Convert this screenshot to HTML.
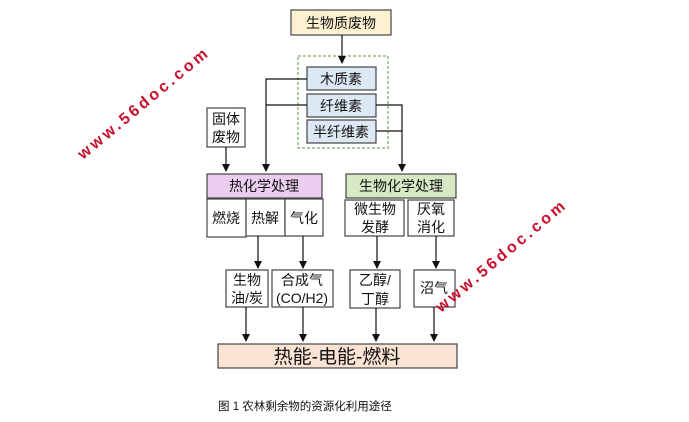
<!DOCTYPE html>
<html><head><meta charset="utf-8"><style>
html,body{margin:0;padding:0;background:#fff;}
svg{display:block;}
text{font-family:"Liberation Sans","Noto Sans CJK SC",sans-serif;fill:#111;}
</style></head><body>
<svg width="689" height="422" viewBox="0 0 689 422" xmlns="http://www.w3.org/2000/svg">
<defs><marker id="a" markerWidth="8" markerHeight="8" refX="7" refY="4" orient="auto" markerUnits="userSpaceOnUse"><path d="M0,0 L8,4 L0,8 z" fill="#111"/></marker></defs>
<g stroke="#444" stroke-width="1.2">
<rect x="291" y="10" width="100" height="25" fill="#fdf1d2"/>
<rect x="298" y="56" width="90" height="92" fill="none" stroke="#7aa860" stroke-dasharray="3,2"/>
<rect x="307" y="67" width="69" height="23" fill="#dde8f5"/>
<rect x="307" y="94" width="69" height="23" fill="#dde8f5"/>
<rect x="307" y="120" width="69" height="23" fill="#dde8f5"/>
<rect x="207" y="108" width="38" height="39" fill="#fff"/>
<rect x="207" y="174" width="115" height="24" fill="#ebcdef"/>
<rect x="346" y="174" width="110" height="24" fill="#d6e9c4"/>
<rect x="207" y="199" width="39" height="38" fill="#fff"/>
<rect x="246" y="199" width="39" height="37" fill="#fff"/>
<rect x="285" y="199" width="38" height="37" fill="#fff"/>
<rect x="345" y="200" width="59" height="36" fill="#fff"/>
<rect x="408" y="200" width="46" height="36" fill="#fff"/>
<rect x="226" y="270" width="42" height="37" fill="#fff"/>
<rect x="272" y="270" width="61" height="37" fill="#fff"/>
<rect x="350" y="270" width="50" height="38" fill="#fff"/>
<rect x="414" y="270" width="41" height="37" fill="#fff"/>
<rect x="218" y="344" width="239" height="24" fill="#fbe3d3"/>
</g>
<g stroke="#111" stroke-width="1.2" fill="none">
<line x1="342" y1="35" x2="342" y2="63" marker-end="url(#a)"/>
<polyline points="307,79 266,79 266,171" marker-end="url(#a)"/>
<line x1="266" y1="105" x2="307" y2="105"/>
<polyline points="376,105 402,105 402,171" marker-end="url(#a)"/>
<line x1="376" y1="131" x2="402" y2="131"/>
<line x1="226" y1="147" x2="226" y2="171" marker-end="url(#a)"/>
<line x1="258" y1="236" x2="258" y2="268" marker-end="url(#a)"/>
<line x1="303" y1="236" x2="303" y2="268" marker-end="url(#a)"/>
<line x1="377" y1="236" x2="377" y2="268" marker-end="url(#a)"/>
<line x1="436" y1="236" x2="436" y2="268" marker-end="url(#a)"/>
<line x1="246" y1="307" x2="246" y2="341" marker-end="url(#a)"/>
<line x1="303" y1="307" x2="303" y2="341" marker-end="url(#a)"/>
<line x1="376" y1="308" x2="376" y2="341" marker-end="url(#a)"/>
<line x1="434" y1="307" x2="434" y2="341" marker-end="url(#a)"/>
</g>
<g font-size="14" text-anchor="middle">
<text x="341" y="28">生物质废物</text>
<text x="341" y="84">木质素</text>
<text x="341" y="111">纤维素</text>
<text x="341" y="137">半纤维素</text>
<text x="226" y="124">固体</text>
<text x="226" y="142">废物</text>
<text x="264" y="191">热化学处理</text>
<text x="401" y="191">生物化学处理</text>
<text x="226" y="223">燃烧</text>
<text x="265" y="223">热解</text>
<text x="304" y="223">气化</text>
<text x="375" y="214">微生物</text>
<text x="375" y="232">发酵</text>
<text x="431" y="214">厌氧</text>
<text x="431" y="232">消化</text>
<text x="247" y="285">生物</text>
<text x="247" y="303">油/炭</text>
<text x="302" y="285">合成气</text>
<text x="302" y="303">(CO/H2)</text>
<text x="375" y="285">乙醇/</text>
<text x="375" y="304">丁醇</text>
<text x="434" y="293">沼气</text>
<text x="337" y="363" font-size="19">热能-电能-燃料</text>
</g>
<text x="218" y="410" font-size="11.5" font-family="Liberation Serif,'Noto Serif CJK SC',serif">图 1  农林剩余物的资源化利用途径</text>
<g font-size="16" font-weight="bold" letter-spacing="3.2">
<text x="83" y="160" transform="rotate(-39.7 83 160)" style="fill:#c8102e">www.56doc.com</text>
<text x="441" y="313" transform="rotate(-40 441 313)" style="fill:#c8102e">www.56doc.com</text>
</g>
</svg>
</body></html>
